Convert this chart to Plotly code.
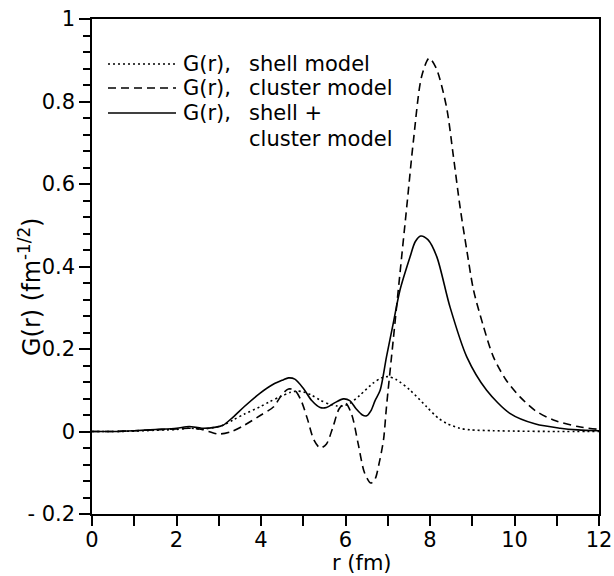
import plotly.graph_objects as go

# ---- data ----
r_shell = [0, 0.5, 1, 1.5, 2.0, 2.3, 2.6, 2.9, 3.1, 3.34, 3.6, 3.98, 4.2, 4.45, 4.7, 4.85, 5.0, 5.2,
           5.4, 5.63, 5.8, 5.94, 6.1, 6.34, 6.65, 6.85, 7.01, 7.2, 7.53, 7.92, 8.2, 8.39, 8.7, 8.95,
           9.5, 10, 11, 12]
g_shell = [0, 0, 0.001, 0.003, 0.005, 0.008, 0.006, 0.010, 0.015, 0.028, 0.042, 0.060, 0.072, 0.084,
           0.095, 0.098, 0.096, 0.088, 0.076, 0.066, 0.062, 0.062, 0.068, 0.088, 0.117, 0.130, 0.133,
           0.126, 0.100, 0.060, 0.032, 0.020, 0.008, 0.004, 0.002, 0.001, 0.0, 0.0]

r_cluster = [0, 0.5, 1, 1.5, 2.0, 2.3, 2.6, 3.0, 3.3, 3.6, 4.0, 4.3, 4.5, 4.65, 4.8, 4.95, 5.1, 5.25,
             5.4, 5.55, 5.7, 5.85, 6.0, 6.15, 6.3, 6.45, 6.6, 6.7, 6.8, 6.9, 6.97, 7.13, 7.29, 7.45,
             7.61, 7.8, 7.98, 8.15, 8.39, 8.55, 8.71, 8.87, 9.03, 9.25, 9.5, 9.8, 10.13, 10.5, 10.92,
             11.5, 12]
g_cluster = [0, 0, 0.002, 0.004, 0.006, 0.008, 0.005, -0.006, 0.0, 0.015, 0.040, 0.060, 0.090, 0.103,
             0.100, 0.075, 0.030, -0.020, -0.040, -0.030, 0.010, 0.055, 0.069, 0.040, -0.030, -0.100,
             -0.125, -0.115, -0.075, -0.020, 0.060, 0.222, 0.384, 0.545, 0.707, 0.860, 0.905, 0.880,
             0.787, 0.670, 0.545, 0.440, 0.343, 0.260, 0.181, 0.125, 0.084, 0.050, 0.028, 0.012, 0.005]

r_total = [0, 0.5, 1, 1.5, 2.0, 2.3, 2.6, 2.9, 3.1, 3.34, 3.6, 3.98, 4.3, 4.52, 4.65, 4.8, 5.0, 5.2,
           5.4, 5.55, 5.75, 5.95, 6.1, 6.25, 6.4, 6.5, 6.6, 6.7, 6.82, 6.97, 7.13, 7.29, 7.53, 7.65,
           7.78, 7.95, 8.16, 8.47, 8.87, 9.34, 9.89, 10.5, 11.08, 11.5, 12]
g_total = [0, 0, 0.002, 0.005, 0.008, 0.012, 0.008, 0.010, 0.015, 0.035, 0.060, 0.093, 0.115, 0.125,
           0.130, 0.127, 0.105, 0.075, 0.058, 0.058, 0.070, 0.079, 0.075, 0.055, 0.040, 0.038, 0.050,
           0.075, 0.100, 0.181, 0.262, 0.343, 0.424, 0.460, 0.474, 0.465, 0.424, 0.303, 0.181, 0.100,
           0.044, 0.018, 0.008, 0.004, 0.002]

x_ticks = [0, 2, 4, 6, 8, 10, 12]
x_ticktext = ["0", "2", "4", "6", "8", "10", "12"]
y_ticks = [-0.2, 0, 0.2, 0.4, 0.6, 0.8, 1]
y_ticktext = ["- 0.2", "0", "0.2", "0.4", "0.6", "0.8", "1"]

legend_rows = [("dot", "G(r),", "shell model"),
               ("dash", "G(r),", "cluster model"),
               ("solid", "G(r),", "shell +")]
legend_extra = "cluster model"
x_title = "r (fm)"
y_title = "G(r) (fm<sup>-1/2</sup>)"

FONT = "DejaVu Sans"
line_style = dict(color="black", width=1.6, shape="spline", smoothing=0.8)

fig = go.Figure()
fig.add_trace(go.Scatter(x=r_shell, y=g_shell, mode="lines",
                         line=dict(**line_style, dash="2px,3px"), showlegend=False))
fig.add_trace(go.Scatter(x=r_cluster, y=g_cluster, mode="lines",
                         line=dict(**line_style, dash="8px,5px"), showlegend=False))
fig.add_trace(go.Scatter(x=r_total, y=g_total, mode="lines",
                         line=dict(**line_style), showlegend=False))

# body margin removed via post_script, so figure origin = screen origin
W, H = 614, 576
SX0, SX1, SY0, SY1 = 92, 599, 19, 514
L, T = SX0, SY0
R, B = W - SX1, H - SY1
pw, ph = SX1 - SX0, SY1 - SY0
def px(sx):
    return (sx - SX0) / pw
def py(sy):
    return 1 - (sy - SY0) / ph

dash_map = {"dot": "2px,3px", "dash": "8px,5px", "solid": "solid"}
row_y = [64, 88, 113]
TXT = dict(family=FONT, size=21, color="black")
for (d, t1, t2), yy in zip(legend_rows, row_y):
    fig.add_shape(type="line", xref="paper", yref="paper", x0=px(108), x1=px(176),
                  y0=py(yy), y1=py(yy), line=dict(color="black", width=1.6, dash=dash_map[d]))
    fig.add_annotation(xref="paper", yref="paper", x=px(181), y=py(yy), text=t1,
                       showarrow=False, xanchor="left", yanchor="middle", font=TXT)
    fig.add_annotation(xref="paper", yref="paper", x=px(247), y=py(yy), text=t2,
                       showarrow=False, xanchor="left", yanchor="middle", font=TXT)
fig.add_annotation(xref="paper", yref="paper", x=px(247), y=py(139), text=legend_extra,
                   showarrow=False, xanchor="left", yanchor="middle", font=TXT)

# axis titles
fig.add_annotation(xref="paper", yref="paper", x=px(30), y=py(287),
                   text=y_title, textangle=-90, showarrow=False,
                   xanchor="center", yanchor="middle",
                   font=dict(family=FONT, size=24, color="black"))
fig.add_annotation(xref="paper", yref="paper", x=px(362), y=py(563),
                   text=x_title, showarrow=False,
                   xanchor="center", yanchor="middle",
                   font=dict(family=FONT, size=21, color="black"))

fig.update_layout(
    width=W, height=H,
    margin=dict(l=L, r=R, t=T, b=B),
    paper_bgcolor="white", plot_bgcolor="white",
    font=dict(family=FONT, size=19, color="black"),
    showlegend=False,
)
fig.update_xaxes(range=[0, 12], tickvals=x_ticks, ticktext=x_ticktext, automargin=False,
                 showline=True, linecolor="black", linewidth=1.5, mirror=True,
                 ticks="outside", ticklen=10, tickwidth=1.5, tickcolor="black",
                 showgrid=False, zeroline=False, ticklabeloverflow="allow",
                 minor=dict(dtick=1, tick0=0, ticks="outside", ticklen=10, tickwidth=1.5,
                            tickcolor="black", showgrid=False),
                 tickfont=dict(family=FONT, size=21), ticklabelstandoff=-4)
fig.update_yaxes(range=[-0.2, 1], tickvals=y_ticks, ticktext=y_ticktext, automargin=False,
                 showline=True, linecolor="black", linewidth=1.5, mirror=True,
                 ticks="outside", ticklen=11, tickwidth=1.5, tickcolor="black",
                 showgrid=False, zeroline=False, ticklabeloverflow="allow",
                 minor=dict(dtick=0.04, tick0=0, ticks="outside", ticklen=7, tickwidth=1.5,
                            tickcolor="black", showgrid=False),
                 tickfont=dict(family=FONT, size=21))

fig.write_html("out.html", config={"displayModeBar": False},
               post_script="document.body.style.margin='0';document.body.style.overflow='hidden';")
